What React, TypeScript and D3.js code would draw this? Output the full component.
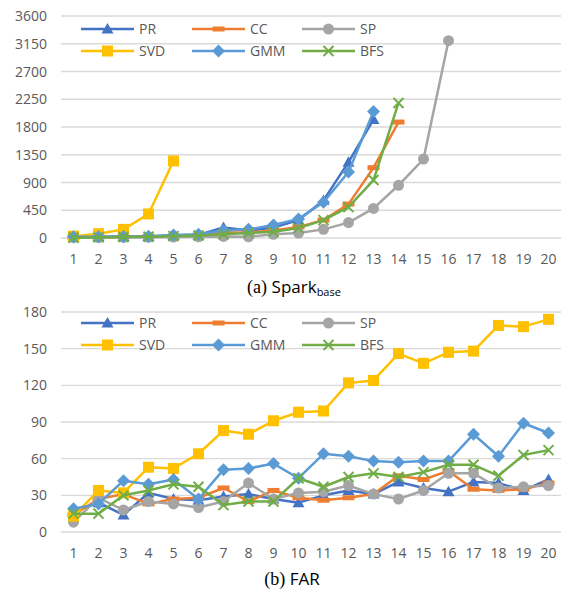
import React, { useEffect, useRef } from "react";
import * as d3 from "d3";

// Category axis (1..20)
const categories = d3.range(1, 21);

// Panel (a): Spark base
const sparkPR = [15, 20, 20, 25, 40, 50, 170, 120, 170, 290, 610, 1230, 1920];
const sparkCC = [10, 15, 20, 25, 30, 45, 90, 90, 120, 180, 290, 550, 1140, 1880];
const sparkSP = [5, 8, 10, 12, 15, 20, 25, 20, 60, 80, 140, 250, 480, 855, 1280, 3200];
const sparkSVD = [30, 70, 140, 390, 1250];
const sparkGMM = [20, 20, 25, 30, 50, 60, 120, 140, 210, 310, 580, 1070, 2050];
const sparkBFS = [5, 10, 15, 20, 30, 40, 60, 80, 100, 160, 290, 500, 940, 2190];
const sparkTicks = [0, 450, 900, 1350, 1800, 2250, 2700, 3150, 3600];

// Panel (b): FAR
const farPR = [17, 24, 14, 32, 27, 26, 29, 31, 27, 24, 30, 34, 31, 41, 36, 33, 41, 40, 34, 43];
const farCC = [14, 27, 31, 23, 27, 28, 36, 25, 34, 28, 26, 28, 31, 46, 43, 50, 35, 34, 35, 40];
const farSP = [8, 28, 18, 25, 23, 20, 25, 40, 27, 32, 33, 38, 31, 27, 34, 48, 48, 36, 37, 38];
const farSVD = [13, 34, 32, 53, 52, 64, 83, 80, 91, 98, 99, 122, 124, 146, 138, 147, 148, 169, 168, 174];
const farGMM = [19, 23, 42, 39, 43, 27, 51, 52, 56, 44, 64, 62, 58, 57, 58, 58, 80, 62, 89, 81];
const farBFS = [15, 15, 30, 34, 39, 37, 22, 25, 25, 44, 37, 45, 48, 45, 49, 55, 55, 46, 63, 67];
const farTicks = [0, 30, 60, 90, 120, 150, 180];

const seriesNames = ["PR", "CC", "SP", "SVD", "GMM", "BFS"];
const seriesColors = ["#4472C4", "#ED7D31", "#A5A5A5", "#FFC000", "#5B9BD5", "#70AD47"];
const seriesMarkers = ["triangle", "dash", "circle", "square", "diamond", "cross"];

const FONT = "'Open Sans', 'Liberation Sans', sans-serif";

type Panel = {
  data: number[][];
  ticks: number[];
  top: number;
  bottom: number;
  legendY: number;
};

function drawMarker(g: d3.Selection<SVGGElement, unknown, null, undefined>, kind: string, x: number, y: number, color: string) {
  if (kind === "triangle") {
    g.append("path").attr("d", `M${x},${y - 6}L${x + 6},${y + 4.5}L${x - 6},${y + 4.5}Z`).attr("fill", color);
  } else if (kind === "dash") {
    g.append("rect").attr("x", x - 6).attr("y", y - 2.5).attr("width", 12).attr("height", 5).attr("fill", color);
  } else if (kind === "circle") {
    g.append("circle").attr("cx", x).attr("cy", y).attr("r", 5.5).attr("fill", color);
  } else if (kind === "square") {
    g.append("rect").attr("x", x - 5.5).attr("y", y - 5.5).attr("width", 11).attr("height", 11).attr("fill", color);
  } else if (kind === "diamond") {
    g.append("path").attr("d", `M${x},${y - 6.5}L${x + 6.5},${y}L${x},${y + 6.5}L${x - 6.5},${y}Z`).attr("fill", color);
  } else if (kind === "cross") {
    g.append("path")
      .attr("d", `M${x - 5},${y - 5}L${x + 5},${y + 5}M${x - 5},${y + 5}L${x + 5},${y - 5}`)
      .attr("stroke", color)
      .attr("stroke-width", 2)
      .attr("fill", "none");
  }
}

export default function App() {
  const ref = useRef<SVGSVGElement | null>(null);

  useEffect(() => {
    const svg = d3.select(ref.current);
    svg.selectAll("*").remove();

    const x = d3.scalePoint<number>().domain(categories).range([73.5, 548.5]);
    const gridLeft = 61;
    const gridRight = 561;

    const panels: Panel[] = [
      { data: [sparkPR, sparkCC, sparkSP, sparkSVD, sparkGMM, sparkBFS], ticks: sparkTicks, top: 16, bottom: 238, legendY: 29 },
      { data: [farPR, farCC, farSP, farSVD, farGMM, farBFS], ticks: farTicks, top: 312, bottom: 532, legendY: 323 },
    ];

    panels.forEach((p) => {
      const maxV = p.ticks[p.ticks.length - 1];
      const y = d3.scaleLinear().domain([0, maxV]).range([p.bottom, p.top]);
      const g = svg.append("g");

      // gridlines
      g.selectAll("line.grid")
        .data(p.ticks)
        .enter()
        .append("line")
        .attr("x1", gridLeft)
        .attr("x2", gridRight)
        .attr("y1", (d) => y(d))
        .attr("y2", (d) => y(d))
        .attr("stroke", "#D9D9D9")
        .attr("stroke-width", 1.3);

      // y tick labels
      g.selectAll("text.ytick")
        .data(p.ticks)
        .enter()
        .append("text")
        .attr("x", 47)
        .attr("y", (d) => y(d) + 5)
        .attr("text-anchor", "end")
        .attr("font-family", FONT)
        .attr("font-size", 14)
        .attr("fill", "#595959")
        .text((d) => String(d));

      // x tick labels
      g.selectAll("text.xtick")
        .data(categories)
        .enter()
        .append("text")
        .attr("x", (d) => x(d)!)
        .attr("y", p.bottom + 26)
        .attr("text-anchor", "middle")
        .attr("font-family", FONT)
        .attr("font-size", 14)
        .attr("fill", "#595959")
        .text((d) => String(d));

      // series
      p.data.forEach((vals, i) => {
        const color = seriesColors[i];
        const line = d3
          .line<number>()
          .x((_, j) => x(categories[j])!)
          .y((d) => y(d));
        g.append("path")
          .attr("d", line(vals)!)
          .attr("fill", "none")
          .attr("stroke", color)
          .attr("stroke-width", 2.5)
          .attr("stroke-linejoin", "round");
        vals.forEach((v, j) => drawMarker(g as any, seriesMarkers[i], x(categories[j])!, y(v), color));
      });

      // legend
      const colX = [81, 192, 302];
      seriesNames.forEach((name, i) => {
        const col = i % 3;
        const row = Math.floor(i / 3);
        const lx = colX[col];
        const ly = p.legendY + row * 22;
        const color = seriesColors[i];
        g.append("line")
          .attr("x1", lx)
          .attr("x2", lx + 53)
          .attr("y1", ly)
          .attr("y2", ly)
          .attr("stroke", color)
          .attr("stroke-width", 2.5);
        drawMarker(g as any, seriesMarkers[i], lx + 26.5, ly, color);
        g.append("text")
          .attr("x", lx + 58)
          .attr("y", ly + 5)
          .attr("font-family", FONT)
          .attr("font-size", 14)
          .attr("fill", "#595959")
          .text(name);
      });
    });

    // captions
    const capA = svg
      .append("text")
      .attr("x", 294)
      .attr("y", 293)
      .attr("text-anchor", "middle")
      .attr("fill", "#000");
    capA.append("tspan").attr("font-family", "'Liberation Serif', serif").attr("font-size", 18).text("(a) ");
    capA.append("tspan").attr("font-family", FONT).attr("font-size", 17).text("Spark");
    capA.append("tspan").attr("font-family", FONT).attr("font-size", 11).attr("dy", 3).text("base");

    const capB = svg
      .append("text")
      .attr("x", 292)
      .attr("y", 585)
      .attr("text-anchor", "middle")
      .attr("fill", "#000");
    capB.append("tspan").attr("font-family", "'Liberation Serif', serif").attr("font-size", 18).text("(b) ");
    capB.append("tspan").attr("font-family", FONT).attr("font-size", 17).text("FAR");
  }, []);

  return (
    <svg
      ref={ref}
      width={562}
      height={591}
      style={{ position: "absolute", left: 0, top: 0, background: "#fff" }}
    />
  );
}
